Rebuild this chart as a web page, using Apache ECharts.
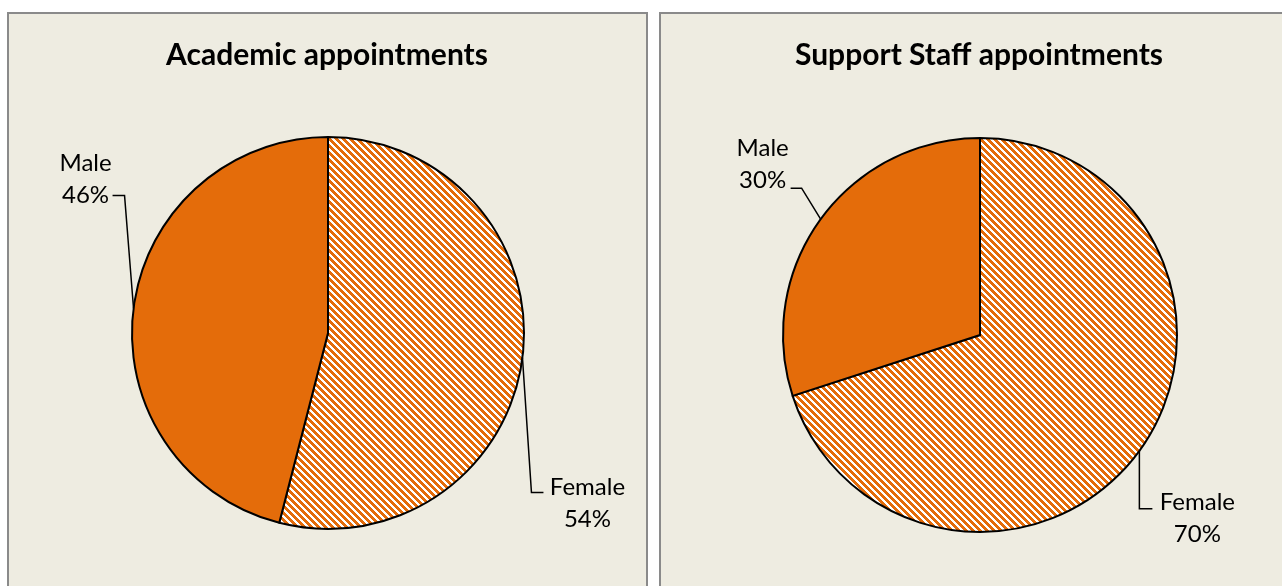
<!DOCTYPE html>
<html>
<head>
<meta charset="utf-8">
<script src="https://cdn.jsdelivr.net/npm/echarts@6/dist/echarts.min.js"></script>
<style>
  html, body { margin: 0; padding: 0; background: #ffffff; overflow: hidden; }
  .panel { position: absolute; box-sizing: border-box; background: #EEECE1; border: 2px solid #8a8a8a; }
  #p1 { left: 7px; top: 12px; width: 641px; height: 600px; }
  #p2 { left: 659px; top: 12px; width: 700px; height: 600px; }
  #chart { position: absolute; left: 0; top: 0; width: 1282px; height: 586px; }
</style>
</head>
<body>
<div class="panel" id="p1"></div>
<div class="panel" id="p2"></div>
<div id="chart"></div>
<script>
// ---- data ----
const categories = ['Female', 'Male'];
const academicValues = [54, 46];
const supportValues = [70, 30];
const chartTitles = ['Academic appointments', 'Support Staff appointments'];

// ---- styles ----
const ORANGE = '#E46C0A';
const FONT = 'Lato, "Noto Sans", sans-serif';

function hatch() {
  const s = 7, c = document.createElement('canvas');
  c.width = s; c.height = s;
  const ctx = c.getContext('2d');
  ctx.fillStyle = '#ffffff'; ctx.fillRect(0, 0, s, s);
  ctx.fillStyle = ORANGE;
  for (let y = 0; y < s; y++) for (let x = 0; x < s; x++) {
    if (((x - y) % s + s) % s < 4) ctx.fillRect(x, y, 1, 1);
  }
  return c;
}
const hatchPattern = { image: hatch(), repeat: 'repeat' };

// leader-line layout offsets relative to the slice anchor (per data index)
const academicLabelOffsets = [
  { label: [65, 146], corner: [9, 135], end: [21, 135] },
  { label: [-48, -129], corner: [-9, -113], end: [-21, -113] }
];
const supportLabelOffsets = [
  { label: [58, 67], corner: [0, 58], end: [13, 58] },
  { label: [-58, -55], corner: [-19, -31], end: [-30, -31] }
];

function makeLayout(offsets) {
  return function (params) {
    const o = offsets[params.dataIndex];
    const a = params.labelLinePoints ? params.labelLinePoints[0] : [params.rect.x, params.rect.y];
    return {
      x: a[0] + o.label[0],
      y: a[1] + o.label[1],
      align: 'center',
      verticalAlign: 'middle',
      labelLinePoints: [
        [a[0], a[1]],
        [a[0] + o.corner[0], a[1] + o.corner[1]],
        [a[0] + o.end[0], a[1] + o.end[1]]
      ]
    };
  };
}

function buildData(values) {
  return categories.map((name, i) => ({
    name: name,
    value: values[i],
    itemStyle: { color: i === 0 ? hatchPattern : ORANGE }
  }));
}

function pieSeries(values, center, radius, offsets) {
  return {
    type: 'pie',
    center: center,
    radius: radius,
    startAngle: 90,
    clockwise: true,
    percentPrecision: 0,
    silent: true,
    data: buildData(values),
    itemStyle: { borderColor: '#000000', borderWidth: 2 },
    label: {
      show: true,
      position: 'outside',
      formatter: '{b}\n{d}%',
      color: '#000000',
      fontFamily: FONT,
      fontSize: 24,
      lineHeight: 32,
      align: 'center'
    },
    labelLine: { show: true, length: 20, length2: 10, smooth: false, lineStyle: { color: '#000000', width: 1.5 } },
    labelLayout: makeLayout(offsets),
    emphasis: { disabled: true }
  };
}

const chart = echarts.init(document.getElementById('chart'), null, { renderer: 'canvas' });
chart.setOption({
  animation: false,
  backgroundColor: 'transparent',
  title: [
    { text: chartTitles[0], left: 327, top: 40, textAlign: 'center', padding: 0,
      textStyle: { fontFamily: FONT, fontSize: 30, fontWeight: 'bold', color: '#000000' } },
    { text: chartTitles[1], left: 979, top: 40, textAlign: 'center', padding: 0,
      textStyle: { fontFamily: FONT, fontSize: 30, fontWeight: 'bold', color: '#000000' } }
  ],
  series: [
    pieSeries(academicValues, [328, 333], 196, academicLabelOffsets),
    pieSeries(supportValues, [980, 335], 197, supportLabelOffsets)
  ]
});
</script>
</body>
</html>
